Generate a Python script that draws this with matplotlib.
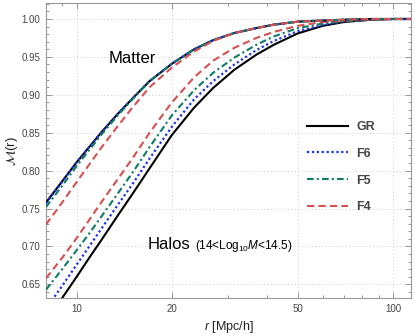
import numpy as np
import matplotlib
matplotlib.use("Agg")
import matplotlib.pyplot as plt
from matplotlib.ticker import FixedLocator, NullFormatter, MultipleLocator, FuncFormatter
from matplotlib.lines import Line2D

plt.rcParams['font.family'] = ['Liberation Sans', 'DejaVu Sans']
plt.rcParams['mathtext.fontset'] = 'custom'
plt.rcParams['mathtext.rm'] = 'Liberation Sans'
plt.rcParams['mathtext.it'] = 'Liberation Sans:italic'
plt.rcParams['mathtext.bf'] = 'Liberation Sans:bold'

# ---- data ----
r = [8, 9, 10, 11, 12, 13.5, 15, 17, 20, 23.5, 27, 31.5, 37, 42, 50, 60, 70, 85, 100, 115]

matter_GR = [0.758, 0.786, 0.811, 0.832, 0.851, 0.875, 0.895, 0.918, 0.941, 0.960,
             0.972, 0.9815, 0.988, 0.9925, 0.9965, 0.998, 0.999, 1.000, 1.000, 1.000]
matter_F6 = [0.757, 0.785, 0.811, 0.832, 0.851, 0.875, 0.895, 0.918, 0.941, 0.960,
             0.972, 0.9815, 0.988, 0.9925, 0.9965, 0.998, 0.999, 1.000, 1.000, 1.000]
matter_F5 = [0.752, 0.780, 0.806, 0.828, 0.848, 0.873, 0.894, 0.918, 0.941, 0.960,
             0.972, 0.9815, 0.988, 0.9925, 0.9965, 0.998, 0.999, 1.000, 1.000, 1.000]
matter_F4 = [0.729, 0.758, 0.785, 0.809, 0.831, 0.859, 0.883, 0.910, 0.936, 0.957,
             0.971, 0.9815, 0.988, 0.9925, 0.9965, 0.998, 0.999, 1.000, 1.000, 1.000]

halo_GR = [0.601, 0.632, 0.660, 0.686, 0.709, 0.741, 0.769, 0.803, 0.847, 0.883,
           0.909, 0.933, 0.953, 0.966, 0.981, 0.991, 0.996, 0.999, 1.000, 1.000]
halo_F6 = [0.618, 0.648, 0.676, 0.701, 0.724, 0.755, 0.782, 0.816, 0.858, 0.894,
           0.918, 0.940, 0.959, 0.971, 0.984, 0.992, 0.997, 0.999, 1.000, 1.000]
halo_F5 = [0.643, 0.670, 0.695, 0.718, 0.740, 0.770, 0.797, 0.831, 0.873, 0.906,
           0.929, 0.949, 0.966, 0.977, 0.988, 0.994, 0.997, 0.999, 1.000, 1.000]
halo_F4 = [0.658, 0.685, 0.711, 0.736, 0.759, 0.789, 0.816, 0.850, 0.890, 0.923,
           0.945, 0.962, 0.975, 0.983, 0.991, 0.996, 0.998, 0.999, 1.000, 1.000]

models = ['GR', 'F6', 'F5', 'F4']
xticks = [10, 20, 50, 100]
yticks = [0.65, 0.70, 0.75, 0.80, 0.85, 0.90, 0.95, 1.00]

# ---- styles ----
styles = {
    'GR': dict(color='black', ls='-', lw=1.5),
    'F6': dict(color='#1e32e6', ls=(0, (1, 1.2)), lw=1.6),
    'F5': dict(color='#0f7a68', ls=(0, (3.2, 1.5, 1, 1.5)), lw=1.5),
    'F4': dict(color='#d65050', ls=(0, (3.5, 2)), lw=1.5),
}

W, H = 415, 336
fig = plt.figure(figsize=(W / 100, H / 100), dpi=100)
L, R, B, T = 46, 411, 298, 3.3
ax = fig.add_axes([L / W, 1 - B / H, (R - L) / W, (B - T) / H])

matter = {'GR': matter_GR, 'F6': matter_F6, 'F5': matter_F5, 'F4': matter_F4}
halos = {'GR': halo_GR, 'F6': halo_F6, 'F5': halo_F5, 'F4': halo_F4}

for m in ['GR', 'F6', 'F5', 'F4']:
    ax.plot(r, halos[m], **styles[m], zorder=3)
for m in ['GR', 'F6', 'F5', 'F4']:
    ax.plot(r, matter[m], **styles[m], zorder=3)

ax.set_xscale('log')
ax.set_xlim(8, 114)
ax.set_ylim(0.632, 1.0207)

ax.xaxis.set_major_locator(FixedLocator(xticks))
ax.xaxis.set_major_formatter(FuncFormatter(lambda v, p: '%d' % v))
ax.xaxis.set_minor_locator(FixedLocator([8, 9, 30, 40, 60, 70, 80, 90]))
ax.xaxis.set_minor_formatter(NullFormatter())
ax.yaxis.set_major_locator(FixedLocator(yticks))
ax.yaxis.set_major_formatter(FuncFormatter(lambda v, p: '%.2f' % v))
ax.yaxis.set_minor_locator(MultipleLocator(0.01))

ax.tick_params(which='both', direction='in', top=True, right=True,
               colors='#888888', labelcolor='#444444', labelsize=7, width=0.6)
ax.tick_params(which='major', length=4, pad=4)
ax.tick_params(which='minor', length=2)
for s in ax.spines.values():
    s.set_color('#999999')
    s.set_linewidth(0.8)

ax.grid(True, which='major', color='#cccccc', ls=(0, (1, 2.5)), lw=0.7)

ax.set_xlabel('$r$ [Mpc/h]', fontsize=9, color='#222222', labelpad=4)
ax.set_ylabel(r'$\mathcal{M}$(r)', fontsize=9.5, color='#222222', labelpad=1,
              math_fontfamily='stix')

ax.text(12.62, 0.942, 'Matter', fontsize=12, color='black', va='baseline', ha='left')
ax.text(16.77, 0.6966, 'Halos', fontsize=12, color='black', va='baseline', ha='left')
ax.text(23.6, 0.6966, '(14<Log$_{10}$$M$<14.5)', fontsize=8.5, color='black',
        va='baseline', ha='left')

handles = [Line2D([], [], **styles[m]) for m in models]
leg = ax.legend(handles, models, loc='upper left',
                bbox_to_anchor=((306.7 - L) / (R - L), (B - 121) / (B - T)),
                frameon=False, borderpad=0, borderaxespad=0, handlelength=3.3,
                handletextpad=0.65, labelspacing=1.18,
                prop={'weight': 'bold', 'size': 9})
for t in leg.get_texts():
    t.set_color('#444444')

fig.savefig('out.png', dpi=100)
